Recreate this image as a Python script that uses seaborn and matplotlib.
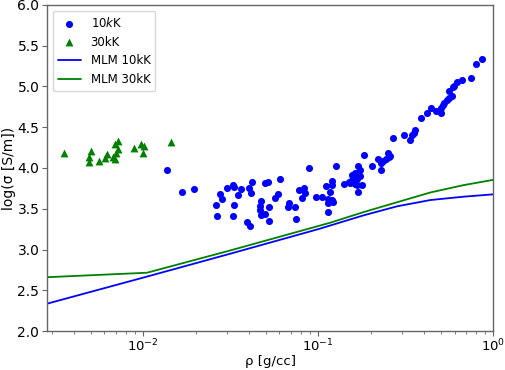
import pandas as pd
import seaborn as sns
import matplotlib
matplotlib.use("Agg")
import matplotlib.pyplot as plt

# DFT-MD conductivity points, 10 kK
rho_10kK = [0.0137, 0.0166, 0.0194, 0.0260, 0.0265, 0.0274, 0.0282, 0.0299, 0.0324, 0.0331,
            0.0349, 0.0331, 0.0324, 0.0363, 0.0400, 0.0418, 0.0414, 0.0391, 0.0405, 0.0472,
            0.0462, 0.0466, 0.0472, 0.0498, 0.0520, 0.0520, 0.0493, 0.0513, 0.0601, 0.0588,
            0.0568, 0.0677, 0.0668, 0.0739, 0.0746, 0.0779, 0.0832, 0.0843, 0.0807, 0.0880,
            0.0970, 0.105, 0.111, 0.120, 0.120, 0.116, 0.114, 0.120, 0.122, 0.113,
            0.127, 0.140, 0.150, 0.156, 0.161, 0.166, 0.168, 0.159, 0.166, 0.156,
            0.161, 0.178, 0.151, 0.168, 0.172, 0.174, 0.182, 0.203, 0.218, 0.228,
            0.229, 0.234, 0.242, 0.252, 0.258, 0.249, 0.267, 0.310, 0.336, 0.344,
            0.350, 0.355, 0.386, 0.418, 0.442, 0.472, 0.502, 0.498, 0.502, 0.513,
            0.525, 0.544, 0.555, 0.581, 0.561, 0.585, 0.599, 0.620, 0.659, 0.746,
            0.800, 0.862, 0.113]
logsig_10kK = [3.97, 3.71, 3.74, 3.54, 3.41, 3.68, 3.62, 3.75, 3.79, 3.77,
               3.67, 3.55, 3.41, 3.74, 3.76, 3.83, 3.69, 3.34, 3.29, 3.60,
               3.53, 3.48, 3.42, 3.44, 3.52, 3.35, 3.81, 3.83, 3.87, 3.68,
               3.63, 3.57, 3.52, 3.52, 3.37, 3.73, 3.76, 3.69, 3.63, 4.00,
               3.64, 3.65, 3.78, 3.84, 3.79, 3.70, 3.62, 3.61, 3.58, 3.46,
               4.02, 3.80, 3.83, 3.91, 3.94, 3.79, 3.71, 3.90, 3.86, 3.85,
               3.80, 3.79, 3.81, 4.02, 3.97, 3.90, 4.16, 4.03, 4.11, 4.06,
               3.98, 4.08, 4.11, 4.13, 4.15, 4.19, 4.37, 4.41, 4.34, 4.40,
               4.43, 4.47, 4.61, 4.68, 4.74, 4.70, 4.67, 4.71, 4.74, 4.77,
               4.80, 4.84, 4.86, 4.88, 4.94, 4.99, 5.01, 5.06, 5.08, 5.10,
               5.27, 5.34, 3.57]

# 30 kK
rho_30kK = [0.00352, 0.0050, 0.00493, 0.0049, 0.00562, 0.0062, 0.00606, 0.00676, 0.00686,
            0.00713, 0.0072, 0.00698, 0.00692, 0.00881, 0.0097, 0.0101, 0.0100, 0.0144]
logsig_30kK = [4.18, 4.21, 4.14, 4.07, 4.08, 4.17, 4.12, 4.14, 4.30,
               4.33, 4.23, 4.18, 4.11, 4.24, 4.29, 4.27, 4.19, 4.32]

# MLM model curves
mlm_rho_10kK = [0.00282, 0.01, 0.0316, 0.1, 0.182, 0.282, 0.437, 0.676, 1.0]
mlm_10kK = [2.335, 2.655, 2.95, 3.25, 3.42, 3.53, 3.607, 3.648, 3.677]
mlm_rho_30kK = [0.00282, 0.0105, 0.0316, 0.1175, 0.182, 0.282, 0.437, 0.676, 1.0]
mlm_30kK = [2.66, 2.715, 2.99, 3.33, 3.46, 3.58, 3.70, 3.79, 3.855]


def main():
    sns.set_style("ticks", {"axes.edgecolor": "0.4", "xtick.color": "0.4",
                            "ytick.color": "0.4", "text.color": "black",
                            "axes.labelcolor": "black"})
    plt.rcParams["font.family"] = ["DejaVu Sans"]

    fig = plt.figure(figsize=(5.05, 3.7), dpi=100)
    ax = fig.add_axes([0.093, 0.1054, 0.884, 0.8811])

    sns.scatterplot(x=rho_10kK, y=logsig_10kK, ax=ax, color="blue", marker="o",
                    s=26, linewidth=0, label="10$k$K")
    sns.scatterplot(x=rho_30kK, y=logsig_30kK, ax=ax, color="green", marker="^",
                    s=32, linewidth=0, label="30kK")
    sns.lineplot(x=mlm_rho_10kK, y=mlm_10kK, ax=ax, color="blue", linewidth=1.3,
                 label="MLM 10kK")
    sns.lineplot(x=mlm_rho_30kK, y=mlm_30kK, ax=ax, color="green", linewidth=1.3,
                 label="MLM 30kK")

    ax.set_xscale("log")
    ax.set_xlim(10 ** -2.55, 1.0)
    ax.set_ylim(2.0, 6.0)
    ax.set_yticks([2.0, 2.5, 3.0, 3.5, 4.0, 4.5, 5.0, 5.5, 6.0])
    ax.set_xlabel("ρ [g/cc]", fontsize=9.5, labelpad=0)
    ax.set_ylabel("log(σ [S/m])", fontsize=10, labelpad=1)
    ax.tick_params(axis="y", labelsize=10, labelcolor="black", pad=2)
    ax.tick_params(axis="x", labelsize=9.5, labelcolor="black", pad=1.5)
    for sp in ax.spines.values():
        sp.set_linewidth(1.0)

    ax.legend(loc="upper left", fontsize=8.5, frameon=True)

    fig.savefig("out.png", dpi=100)


if __name__ == "__main__":
    main()
